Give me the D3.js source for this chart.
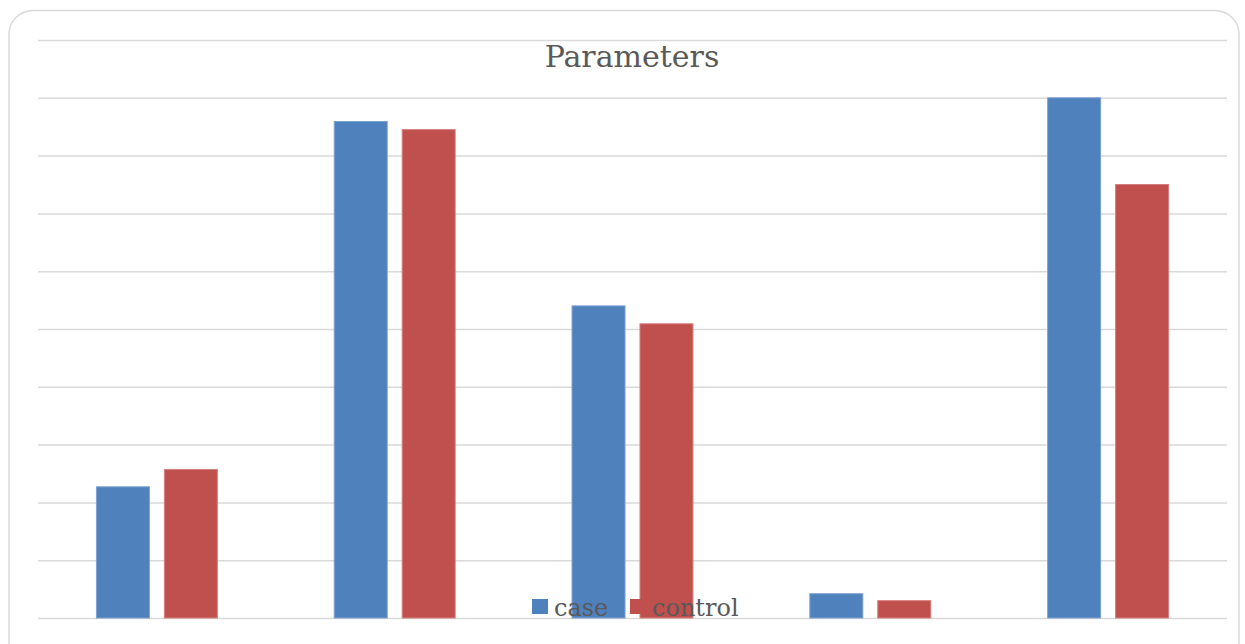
<!DOCTYPE html>
<html>
<head>
<meta charset="utf-8">
<script src="https://cdn.jsdelivr.net/npm/d3@7"></script>
<style>
  body { margin: 0; background: #fff; }
</style>
</head>
<body>
<div id="chart"></div>
<script>
const WIDTH = 1245, HEIGHT = 644;
const MARGIN = { left: 38, right: 18, top: 40, bottom: 26 };
const INNER_WIDTH = WIDTH - MARGIN.left - MARGIN.right;
const INNER_HEIGHT = HEIGHT - MARGIN.top - MARGIN.bottom;

// data (no axis labels shown, unit = one gridline)
const categories = ["P1", "P2", "P3", "P4", "P5"];
const seriesNames = ["case", "control"];
const caseValues = [2.27, 8.59, 5.40, 0.42, 9.00];
const controlValues = [2.57, 8.45, 5.09, 0.30, 7.50];
const yTicks = [0, 1, 2, 3, 4, 5, 6, 7, 8, 9, 10];
const colors = ["#4F81BD", "#C0504D"];
const strokes = ["#7EA1D0", "#D6807D"];

const rows = categories.map((c, i) => ({ cat: c, vals: [caseValues[i], controlValues[i]] }));

const root = d3.select("#chart")
  .append("svg")
  .attr("width", WIDTH)
  .attr("height", HEIGHT);

// chart frame
root.append("rect")
  .attr("x", 9).attr("y", 10.5)
  .attr("width", 1230).attr("height", 660)
  .attr("rx", 24).attr("ry", 24)
  .attr("fill", "#fff")
  .attr("stroke", "#d9d9d9")
  .attr("stroke-width", 1.5);

const svg = root.append("g")
  .attr("transform", `translate(${MARGIN.left}, ${MARGIN.top})`);

// scales
const x = d3.scaleBand()
  .domain(categories)
  .range([0, INNER_WIDTH]);

const xs = d3.scaleBand()
  .domain(seriesNames)
  .range([0, x.bandwidth()])
  .paddingInner(0.22)
  .paddingOuter(0.86);

const y = d3.scaleLinear()
  .domain([0, 10])
  .range([INNER_HEIGHT, 0]);

// gridlines
svg.append("g")
  .call(d3.axisLeft(y).tickValues(yTicks).tickSize(-INNER_WIDTH).tickFormat(""))
  .call(g => g.select(".domain").remove())
  .call(g => g.selectAll("line").attr("stroke", "#d9d9d9").attr("stroke-width", 1.5));

// bars
svg.selectAll("g.cat")
  .data(rows)
  .join("g")
  .attr("class", "cat")
  .attr("transform", d => `translate(${x(d.cat)}, 0)`)
  .selectAll("rect")
  .data(d => d.vals.map((v, i) => ({ s: seriesNames[i], v, i })))
  .join("rect")
  .attr("x", d => xs(d.s))
  .attr("y", d => y(d.v))
  .attr("width", xs.bandwidth())
  .attr("height", d => y(0) - y(d.v))
  .attr("fill", d => colors[d.i])
  .attr("stroke", d => strokes[d.i])
  .attr("stroke-width", 1);

// title
root.append("text")
  .attr("x", 632)
  .attr("y", 67)
  .attr("text-anchor", "middle")
  .style("font-family", "'DejaVu Serif', serif")
  .style("font-size", "30px")
  .attr("fill", "#595959")
  .text("Parameters");

// legend
const legend = root.append("g").attr("transform", "translate(532, 599)");
const legendX = [0, 98];
seriesNames.forEach((s, i) => {
  legend.append("rect")
    .attr("x", legendX[i]).attr("y", 0)
    .attr("width", 16).attr("height", 15)
    .attr("fill", colors[i]);
  legend.append("text")
    .attr("x", legendX[i] + 22)
    .attr("y", 17)
    .style("font-family", "'DejaVu Serif', serif")
    .style("font-size", "24px")
    .attr("fill", "#595959")
    .text(s);
});
</script>
</body>
</html>
